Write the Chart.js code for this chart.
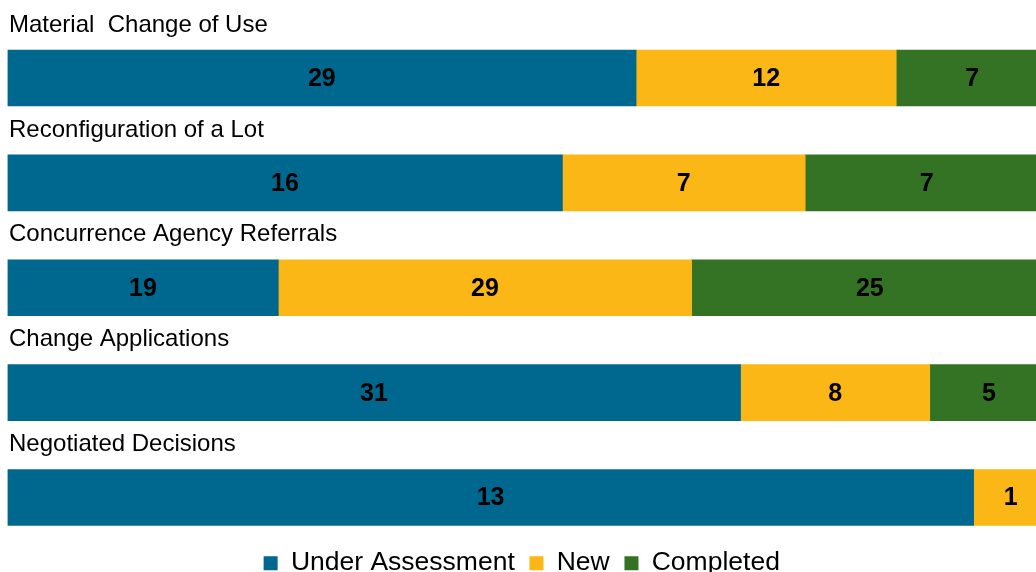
<!DOCTYPE html>
<html>
<head>
<meta charset="utf-8">
<script src="https://cdn.jsdelivr.net/npm/chart.js@4"></script>
<style>
  html, body { margin: 0; padding: 0; background: #fff; overflow: hidden; }
  #wrap { width: 1036px; height: 572px; position: relative; }
</style>
</head>
<body>
<div id="wrap"><canvas id="applications"></canvas></div>
<script>
const categories = [
  "Material  Change of Use",
  "Reconfiguration of a Lot",
  "Concurrence Agency Referrals",
  "Change Applications",
  "Negotiated Decisions",
];
const seriesNames = ["Under Assessment", "New", "Completed"];
const underAssessment = [29, 16, 19, 31, 13];
const newApps = [12, 7, 29, 8, 1];
const completed = [7, 7, 25, 5, 0];
const seriesColors = ["#00678E", "#FBB715", "#357324"];

const counts = [underAssessment, newApps, completed];
const totals = categories.map((_, i) => counts.reduce((s, arr) => s + arr[i], 0));

Chart.defaults.font.family = "'Liberation Sans', Arial, sans-serif";
Chart.defaults.color = "#000";

// value labels, centred on the whole segment
const segmentLabels = {
  id: "segmentLabels",
  afterDatasetsDraw(chart) {
    const ctx = chart.ctx;
    ctx.save();
    ctx.font = "bold 25px 'Liberation Sans', Arial, sans-serif";
    ctx.fillStyle = "#000";
    ctx.textAlign = "center";
    ctx.textBaseline = "middle";
    chart.data.datasets.forEach((ds, d) => {
      chart.getDatasetMeta(d).data.forEach((bar, i) => {
        const v = ds.counts[i];
        if (!v) return;
        ctx.fillText(String(v), (bar.x + bar.base) / 2, bar.y + 1);
      });
    });
    ctx.restore();
  },
};

// category names above each bar
const categoryTitles = {
  id: "categoryTitles",
  afterDraw(chart) {
    const ctx = chart.ctx;
    const y = chart.scales.y;
    ctx.save();
    ctx.font = "24px 'Liberation Sans', Arial, sans-serif";
    ctx.fillStyle = "#000";
    ctx.textAlign = "left";
    ctx.textBaseline = "middle";
    categories.forEach((name, i) => {
      ctx.fillText(name, 9, y.getPixelForValue(i) - 53);
    });
    ctx.restore();
  },
};

new Chart(document.getElementById("applications"), {
  type: "bar",
  data: {
    labels: categories,
    datasets: seriesNames.map((name, s) => ({
      label: name,
      counts: counts[s],
      data: counts[s].map((v, i) => (v / totals[i]) * 100),
      backgroundColor: seriesColors[s],
      borderWidth: 0,
      barThickness: 56,
    })),
  },
  options: {
    indexAxis: "y",
    responsive: true,
    maintainAspectRatio: false,
    animation: false,
    layout: { padding: { left: 7.5, top: 25.6, right: 0, bottom: -14.4 } },
    scales: {
      x: { stacked: true, min: 0, max: 98.85, display: false },
      y: { stacked: true, display: false },
    },
    plugins: {
      tooltip: { enabled: false },
      legend: {
        position: "bottom",
        labels: {
          font: { size: 26.5 },
          color: "#000",
          boxWidth: 14,
          boxHeight: 14,
          padding: 0,
          generateLabels: (chart) =>
            Chart.defaults.plugins.legend.labels.generateLabels(chart).map((item, i, all) => {
              if (i < all.length - 1) item.text += "  ";
              return item;
            }),
        },
      },
    },
  },
  plugins: [segmentLabels, categoryTitles],
});
</script>
</body>
</html>
